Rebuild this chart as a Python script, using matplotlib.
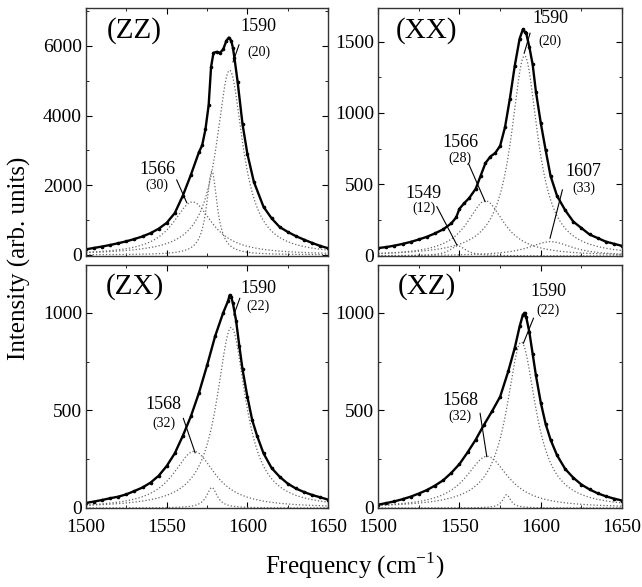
import numpy as np
import matplotlib
matplotlib.use("Agg")
import matplotlib.pyplot as plt
from matplotlib.ticker import MultipleLocator

plt.rcParams['font.family'] = ['Liberation Serif', 'DejaVu Serif']
plt.rcParams['mathtext.fontset'] = 'custom'
plt.rcParams['mathtext.rm'] = 'Liberation Serif'

zz_x = [1500, 1505, 1510, 1515, 1520, 1525, 1530, 1535, 1540, 1545, 1550, 1555, 1560, 1565,
        1570, 1572, 1574, 1576, 1577.5, 1579, 1581, 1583, 1585, 1587, 1588.5, 1590, 1591,
        1592, 1594, 1597, 1600, 1604, 1610, 1615, 1620, 1625, 1630, 1635, 1640, 1645, 1650]
zz_y = [160, 200, 240, 285, 335, 390, 455, 530, 625, 750, 920, 1200, 1700, 2300,
        2950, 3150, 3600, 4300, 5400, 5800, 5830, 5800, 5900, 6150, 6240, 6150, 5950,
        5650, 4950, 3750, 2900, 2100, 1380, 1050, 800, 660, 540, 440, 345, 260, 190]

xx_x = [1500, 1505, 1510, 1515, 1520, 1525, 1530, 1535, 1540, 1545, 1548, 1550, 1553, 1556,
        1560, 1563, 1566, 1569, 1572, 1575, 1578, 1581, 1584, 1587, 1589, 1590, 1591, 1593,
        1595, 1597, 1600, 1603, 1606, 1610, 1615, 1620, 1625, 1630, 1635, 1640, 1645, 1650]
xx_y = [55, 62, 72, 84, 98, 115, 134, 158, 186, 228, 270, 330, 370, 405,
        470, 560, 650, 695, 720, 770, 900, 1100, 1330, 1520, 1585, 1570, 1560, 1460,
        1340, 1150, 930, 740, 560, 420, 320, 240, 195, 150, 125, 100, 85, 70]

zx_x = [1500, 1505, 1510, 1515, 1520, 1525, 1530, 1535, 1540, 1545, 1550, 1555, 1560, 1565,
        1570, 1575, 1580, 1585, 1588, 1589, 1590, 1591, 1593, 1595, 1597, 1600, 1603, 1606,
        1610, 1615, 1620, 1625, 1630, 1635, 1640, 1645, 1650]
zx_y = [26, 33, 41, 50, 58, 70, 87, 105, 130, 165, 215, 280, 370, 470,
        590, 730, 880, 1000, 1060, 1090, 1080, 1050, 960, 830, 710, 570, 450, 370,
        280, 205, 160, 125, 100, 82, 67, 55, 43]

xz_x = [1500, 1505, 1510, 1515, 1520, 1525, 1530, 1535, 1540, 1545, 1550, 1555, 1560, 1565,
        1570, 1575, 1580, 1584, 1587, 1589, 1590, 1591, 1593, 1595, 1597, 1600, 1603, 1606,
        1610, 1615, 1620, 1625, 1630, 1635, 1640, 1645, 1650]
xz_y = [17, 25, 34, 45, 58, 74, 92, 115, 142, 180, 225, 285, 350, 425,
        495, 570, 700, 820, 930, 990, 1000, 980, 900, 790, 680, 540, 430, 350,
        270, 200, 155, 120, 95, 75, 60, 48, 38]

# Lorentzian fit components: centre, FWHM, height
zz_pos = [1566, 1589, 1578]
zz_fwhm = [30, 20, 8]
zz_amp = [1520, 5300, 2400]

xx_pos = [1549, 1566, 1590, 1606]
xx_fwhm = [12, 28, 20, 33]
xx_amp = [70, 385, 1400, 100]

zx_pos = [1567, 1590, 1578]
zx_fwhm = [32, 22, 8]
zx_amp = [290, 925, 105]

xz_pos = [1567, 1588, 1579]
xz_fwhm = [32, 22, 6]
xz_amp = [265, 850, 68]

# peak labels: (text, width, text x, text y, width y, line start, line end)
zz_labels = [("1590", "(20)", 1607, 6545, 5830, (1594.8, 6030), (1591.1, 5540)),
             ("1566", "(30)", 1544, 2440, 2010, (1556.2, 2150), (1562.4, 1500))]
xx_labels = [("1590", "(20)", 1605.7, 1663, 1500, (1593.4, 1558), (1589.8, 1418)),
             ("1566", "(28)", 1550.4, 795, 682, (1555.5, 648), (1565.8, 380)),
             ("1549", "(12)", 1527.9, 439, 334, (1536.1, 345), (1548.4, 77)),
             ("1607", "(33)", 1626.2, 590, 474, (1613.3, 462), (1605.7, 124))]
zx_labels = [("1590", "(22)", 1606.8, 1127, 1031, (1595.3, 1074), (1591.6, 989)),
             ("1568", "(32)", 1548.1, 528, 434, (1560.3, 459), (1567.6, 283))]
xz_labels = [("1590", "(22)", 1604.7, 1108, 1014, (1595.5, 972), (1589.3, 844)),
             ("1568", "(32)", 1550.4, 553, 468, (1562.7, 485), (1566.8, 263))]

panels = [
    ("(ZZ)", zz_x, zz_y, zz_pos, zz_fwhm, zz_amp, zz_labels, (-30, 7090), 2000, 1000,
     [0.134, 0.564, 0.377, 0.4225]),
    ("(XX)", xx_x, xx_y, xx_pos, xx_fwhm, xx_amp, xx_labels, (0, 1735), 500, 250,
     [0.589, 0.564, 0.380, 0.4225]),
    ("(ZX)", zx_x, zx_y, zx_pos, zx_fwhm, zx_amp, zx_labels, (0, 1245), 500, 250,
     [0.134, 0.1346, 0.377, 0.414]),
    ("(XZ)", xz_x, xz_y, xz_pos, xz_fwhm, xz_amp, xz_labels, (0, 1245), 500, 250,
     [0.589, 0.1346, 0.380, 0.414]),
]

fig = plt.figure(figsize=(6.42, 5.87), dpi=100)
grid = np.linspace(1500, 1650, 601)

for name, mx, my, pos, fw, amp, labels, ylim, major, minor, rect in panels:
    ax = fig.add_axes(rect)
    for c, w, a in zip(pos, fw, amp):
        hw = w / 2.0
        ax.plot(grid, a * hw**2 / ((grid - c)**2 + hw**2), ls=':', lw=0.9, color='#666666')
    ax.plot(mx, my, '-', color='black', lw=1.7, marker='o', ms=1.6)
    for num, wid, tx, ty, ty2, p0, p1 in labels:
        ax.text(tx, ty, num, ha='center', va='center', fontsize=13)
        ax.text(tx, ty2, wid, ha='center', va='center', fontsize=10)
        ax.plot([p0[0], p1[0]], [p0[1], p1[1]], color='black', lw=0.8)
    ax.text(0.20, 0.91, name, transform=ax.transAxes, ha='center', va='center', fontsize=21)
    ax.set_xlim(1500, 1650)
    ax.set_ylim(*ylim)
    ax.xaxis.set_major_locator(MultipleLocator(50))
    ax.xaxis.set_minor_locator(MultipleLocator(25))
    ax.yaxis.set_major_locator(MultipleLocator(major))
    ax.yaxis.set_minor_locator(MultipleLocator(minor))
    ax.tick_params(which='both', direction='in', top=True, right=True, labelsize=14, pad=3)
    ax.tick_params(axis='x', which='major', pad=8)
    ax.tick_params(which='major', length=4)
    ax.tick_params(which='minor', length=2.5)
    if rect[1] > 0.5:
        ax.set_xticklabels([])
    for s in ax.spines.values():
        s.set_linewidth(1.0)
        s.set_color('#333333')

fig.text(0.03, 0.56, 'Intensity (arb. units)', rotation=90, ha='center', va='center', fontsize=18)
fig.text(0.553, 0.036, 'Frequency (cm$^{-1}$)', ha='center', va='center', fontsize=18)

fig.savefig('out.png', dpi=100)
